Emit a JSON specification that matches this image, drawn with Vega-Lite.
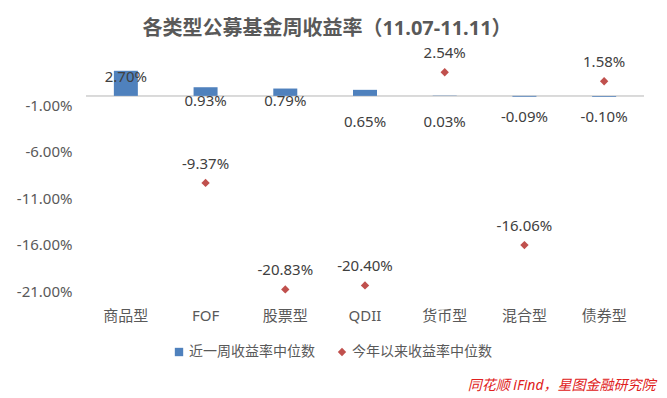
{
  "$schema": "https://vega.github.io/schema/vega-lite/v6.json",
  "width": 558,
  "height": 223,
  "autosize": {"type": "none"},
  "padding": {"left": 86, "top": 68, "right": 23, "bottom": 107},
  "background": "white",
  "title": {"text": "各类型公募基金周收益率（11.07-11.11）", "fontSize": 20, "fontWeight": "bold", "color": "#595959", "dx": -38, "dy": 7, "offset": 14, "frame": "group", "anchor": "middle"},
  "config": {
    "font": "'Noto Sans', 'Noto Sans CJK SC', sans-serif",
    "locale": {"number": {"decimal": ".", "thousands": ",", "grouping": [3], "currency": ["$", ""], "minus": "-"}},
    "view": {"stroke": null},
    "axis": {"grid": false, "domain": false, "ticks": false, "labelColor": "#595959", "labelFontSize": 15},
    "text": {"fontSize": 15, "color": "#404040"}
  },
  "data": {"values": [
    {"cat": "商品型", "weekly": 0.0270, "ytd": null},
    {"cat": "FOF", "weekly": 0.0093, "ytd": -0.0937},
    {"cat": "股票型", "weekly": 0.0079, "ytd": -0.2083},
    {"cat": "QDII", "weekly": 0.0065, "ytd": -0.2040},
    {"cat": "货币型", "weekly": 0.0003, "ytd": 0.0254},
    {"cat": "混合型", "weekly": -0.0009, "ytd": -0.1606},
    {"cat": "债券型", "weekly": -0.0010, "ytd": 0.0158}
  ]},
  "encoding": {
    "x": {"field": "cat", "type": "nominal", "sort": null, "scale": {"paddingInner": 0, "paddingOuter": 0},
      "axis": {"labelAngle": 0, "labelPadding": 17, "title": "同花顺 iFind，星图金融研究院", "titleX": 569, "titleY": 94, "titleAlign": "right", "titleBaseline": "middle", "titleColor": "#E02020", "titleFontStyle": "italic", "titleFontSize": 14, "titleFontWeight": "normal"}}
  },
  "layer": [
    {"mark": {"type": "rule", "color": "#D9D9D9", "strokeWidth": 1},
     "encoding": {"y": {"datum": 0, "type": "quantitative", "scale": {"domain": [-0.21, 0.03], "nice": false, "zero": false}}, "x": null}},
    {"mark": {"type": "bar", "size": 24},
     "encoding": {
       "y": {"field": "weekly", "type": "quantitative", "title": null, "scale": {"domain": [-0.21, 0.03], "nice": false, "zero": false},
         "axis": {"values": [-0.21, -0.16, -0.11, -0.06, -0.01], "format": ".2%", "labelPadding": 14}},
       "color": {"datum": "近一周收益率中位数", "type": "nominal", "scale": {"domain": ["近一周收益率中位数", "今年以来收益率中位数"], "range": ["#4F81BD", "#C0504D"]},
         "legend": {"orient": "none", "legendX": 86, "legendY": 277, "direction": "horizontal", "title": null, "labelFontSize": 14, "labelColor": "#595959", "symbolSize": 70, "columnPadding": 20, "labelOffset": 3,
           "encode": {"symbols": {"update": {"shape": {"signal": "datum.value == '近一周收益率中位数' ? 'square' : 'diamond'"}}}}}}
     }},
    {"mark": {"type": "point", "shape": "diamond", "filled": true, "size": 70, "opacity": 1},
     "encoding": {
       "y": {"field": "ytd", "type": "quantitative", "title": null, "scale": {"domain": [-0.21, 0.03], "nice": false, "zero": false}},
       "color": {"datum": "今年以来收益率中位数", "type": "nominal"}
     }},
    {"mark": {"type": "text", "dy": -19},
     "encoding": {
       "y": {"field": "ytd", "type": "quantitative", "title": null, "scale": {"domain": [-0.21, 0.03], "nice": false, "zero": false}},
       "text": {"field": "ytd", "type": "quantitative", "format": ".2%"}
     }},
    {"transform": [{"filter": {"field": "cat", "oneOf": ["商品型"]}}],
     "mark": {"type": "text", "dy": 6},
     "encoding": {
       "y": {"field": "weekly", "type": "quantitative", "title": null, "scale": {"domain": [-0.21, 0.03], "nice": false, "zero": false}},
       "text": {"field": "weekly", "type": "quantitative", "format": ".2%"}
     }},
    {"transform": [{"filter": {"field": "cat", "oneOf": ["FOF", "股票型"]}}],
     "mark": {"type": "text", "dy": 5},
     "encoding": {
       "y": {"datum": 0, "type": "quantitative", "scale": {"domain": [-0.21, 0.03], "nice": false, "zero": false}},
       "text": {"field": "weekly", "type": "quantitative", "format": ".2%"}
     }},
    {"transform": [{"filter": {"field": "cat", "oneOf": ["QDII", "货币型"]}}],
     "mark": {"type": "text", "dy": 26},
     "encoding": {
       "y": {"datum": 0, "type": "quantitative", "scale": {"domain": [-0.21, 0.03], "nice": false, "zero": false}},
       "text": {"field": "weekly", "type": "quantitative", "format": ".2%"}
     }},
    {"transform": [{"filter": {"field": "cat", "oneOf": ["混合型", "债券型"]}}],
     "mark": {"type": "text", "dy": 21},
     "encoding": {
       "y": {"datum": 0, "type": "quantitative", "scale": {"domain": [-0.21, 0.03], "nice": false, "zero": false}},
       "text": {"field": "weekly", "type": "quantitative", "format": ".2%"}
     }}
  ]
}
